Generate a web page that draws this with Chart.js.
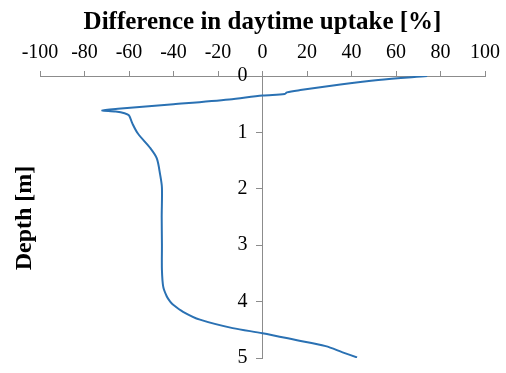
<!DOCTYPE html>
<html>
<head>
<meta charset="utf-8">
<script src="https://cdn.jsdelivr.net/npm/chart.js@4"></script>
<style>
  body { margin: 0; background: #fff; }
  #wrap { width: 506px; height: 373px; }
</style>
</head>
<body>
<div id="wrap"><canvas id="chart"></canvas></div>
<script>
"use strict";

// depth [m] and difference in daytime uptake [%]
const depths = [0, 0.07, 0.15, 0.25, 0.29, 0.32, 0.345, 0.415, 0.5, 0.58, 0.61, 0.63, 0.66, 0.70, 0.84, 1.02, 1.28, 1.46, 1.75, 1.98, 2.5, 3.0, 3.44, 3.74, 3.91, 4.0, 4.06, 4.18, 4.32, 4.47, 4.56, 4.68, 4.79, 4.9, 4.99];
const uptakeDiff = [74, 52, 35, 17, 11, 10, 0, -15, -40, -65, -72, -66, -62, -60, -58.5, -56, -50.4, -47.5, -46, -45.2, -45.3, -45.2, -45.2, -44.6, -43, -41.5, -40, -35.7, -28.1, -13.4, 0, 15, 28.4, 36, 42.5];
const xTicks = [-100, -80, -60, -40, -20, 0, 20, 40, 60, 80, 100];
const yTicks = [0, 1, 2, 3, 4, 5];

const axisColor = "#8c8c8c";

const yTitlePlugin = {
  id: "yTitle",
  afterDraw(chart) {
    const ctx = chart.ctx;
    ctx.save();
    ctx.translate(25, 218);
    ctx.rotate(-Math.PI / 2);
    ctx.font = "bold 24px 'Liberation Serif'";
    ctx.fillStyle = "#000";
    ctx.textAlign = "center";
    ctx.textBaseline = "middle";
    ctx.fillText("Depth [m]", 0, 0);
    ctx.restore();
  },
};

function makeChart() {
  const ctx = document.querySelector("#chart").getContext("2d");
  const points = depths.map((d, i) => ({ x: uptakeDiff[i], y: d }));
  const configuration = {
    type: "scatter",
    data: {
      datasets: [
        {
          data: points,
          showLine: true,
          borderColor: "#2a71b3",
          borderWidth: 2,
          pointRadius: 0,
          tension: 0.3,
        },
      ],
    },
    options: {
      responsive: true,
      maintainAspectRatio: false,
      animation: false,
      layout: { padding: { left: 40, right: 13, bottom: 11, top: 10 } },
      plugins: { legend: { display: false }, tooltip: { enabled: false } },
      scales: {
        x: {
          type: "linear",
          position: "top",
          min: -100,
          max: 100,
          afterBuildTicks: (axis) => {
            axis.ticks = xTicks.map((v) => ({ value: v }));
          },
          grid: { drawOnChartArea: false, color: axisColor, tickLength: 5 },
          border: { color: axisColor, width: 1 },
          ticks: {
            color: "#000",
            padding: 6,
            maxRotation: 0,
            font: { family: "'Liberation Serif'", size: 20 },
          },
          title: {
            display: true,
            text: "Difference in daytime uptake [%]",
            color: "#000",
            padding: { top: 0, bottom: 0 },
            font: { family: "'Liberation Serif'", size: 25, weight: "bold", lineHeight: 1 },
          },
        },
        y: {
          type: "linear",
          position: { x: 0 },
          reverse: true,
          min: 0,
          max: 5,
          afterBuildTicks: (axis) => {
            axis.ticks = yTicks.map((v) => ({ value: v }));
          },
          grid: { drawOnChartArea: false, color: axisColor, tickLength: 6 },
          border: { color: axisColor, width: 1 },
          ticks: {
            color: "#000",
            callback: (v) => v + "   ",
            font: { family: "'Liberation Serif'", size: 20 },
          },
        },
      },
    },
    plugins: [yTitlePlugin],
  };
  return new Chart(ctx, configuration);
}

makeChart();
</script>
</body>
</html>
